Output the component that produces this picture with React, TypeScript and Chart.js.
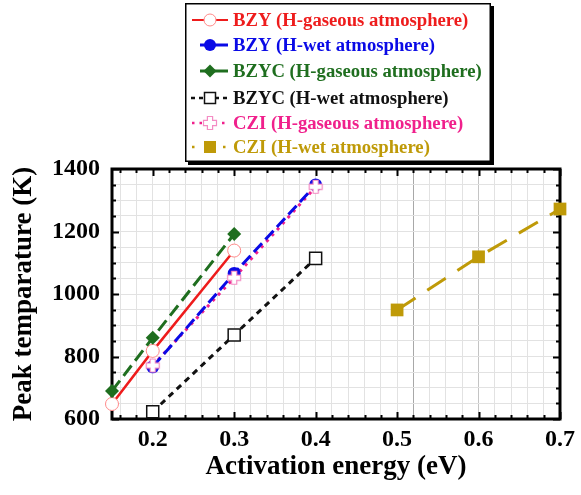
import React, { useEffect, useRef } from 'react';
import { Chart, registerables } from 'chart.js';

Chart.register(...registerables);

// Activation energy (eV) and peak temperature (K) for each sample / atmosphere
const E_BZY_GAS = [0.15, 0.2, 0.3];
const T_BZY_GAS = [648, 818, 1139];
const E_BZY_WET = [0.2, 0.3, 0.4];
const T_BZY_WET = [767, 1066, 1349];
const E_BZYC_GAS = [0.15, 0.2, 0.3];
const T_BZYC_GAS = [690, 860, 1192];
const E_BZYC_WET = [0.2, 0.3, 0.4];
const T_BZYC_WET = [623, 869, 1114];
const E_CZI_GAS = [0.2, 0.3, 0.4];
const T_CZI_GAS = [771, 1052, 1343];
const E_CZI_WET = [0.5, 0.6, 0.7];
const T_CZI_WET = [949, 1119, 1272];

// Axis labels
const X_LABELS = [0.2, 0.3, 0.4, 0.5, 0.6, 0.7];
const Y_LABELS = [600, 800, 1000, 1200, 1400];

const X_MIN = 0.15;
const X_MAX = 0.7;
const X_MINOR_STEP = 0.02;
const Y_MIN = 600;
const Y_MAX = 1400;
const Y_MINOR_STEP = 50;

const SERIF = "'Liberation Serif', 'Times New Roman', serif";

const RED = '#ee1c1c';
const BLUE = '#0a0ae6';
const GREEN = '#1f6e1f';
const BLACK = '#111111';
const PINK = '#f0208c';
const GOLD = '#bf9a08';

const zip = (xs: number[], ys: number[]) => xs.map((x, i) => ({ x, y: ys[i] }));

const xMinor: number[] = [];
for (let v = 0.16; v <= X_MAX + 1e-9; v += X_MINOR_STEP) xMinor.push(Math.round(v * 100) / 100);
const yMinor: number[] = [];
for (let v = Y_MIN; v <= Y_MAX; v += Y_MINOR_STEP) yMinor.push(v);

const isXMajor = (v: number) => X_LABELS.some((m) => Math.abs(m - v) < 1e-6);
const isYMajor = (v: number) => Y_LABELS.some((m) => Math.abs(m - v) < 1e-6);

function crossPath(ctx: CanvasRenderingContext2D, cx: number, cy: number, L: number, a: number) {
  ctx.beginPath();
  ctx.moveTo(cx - a, cy - L);
  ctx.lineTo(cx + a, cy - L);
  ctx.lineTo(cx + a, cy - a);
  ctx.lineTo(cx + L, cy - a);
  ctx.lineTo(cx + L, cy + a);
  ctx.lineTo(cx + a, cy + a);
  ctx.lineTo(cx + a, cy + L);
  ctx.lineTo(cx - a, cy + L);
  ctx.lineTo(cx - a, cy + a);
  ctx.lineTo(cx - L, cy + a);
  ctx.lineTo(cx - L, cy - a);
  ctx.lineTo(cx - a, cy - a);
  ctx.closePath();
}

function makeCross(): HTMLCanvasElement {
  const c = document.createElement('canvas');
  c.width = 16;
  c.height = 16;
  const g = c.getContext('2d')!;
  crossPath(g, 8, 8, 6.5, 2.6);
  g.fillStyle = '#ffffff';
  g.fill();
  g.lineWidth = 1.2;
  g.strokeStyle = '#f48cc4';
  g.stroke();
  return c;
}

type Marker = 'circleOpen' | 'circle' | 'diamond' | 'squareOpen' | 'cross' | 'square';

interface LegendRow {
  label: string;
  color: string;
  dash: number[];
  marker: Marker;
  lineFrom: number;
  width: number;
}

const LEGEND: LegendRow[] = [
  { label: 'BZY (H-gaseous atmosphere)', color: RED, dash: [], marker: 'circleOpen', lineFrom: 192, width: 2 },
  { label: 'BZY (H-wet atmosphere)', color: BLUE, dash: [], marker: 'circle', lineFrom: 200, width: 3 },
  { label: 'BZYC (H-gaseous atmosphere)', color: GREEN, dash: [], marker: 'diamond', lineFrom: 200, width: 3 },
  { label: 'BZYC (H-wet atmosphere)', color: BLACK, dash: [4, 4], marker: 'squareOpen', lineFrom: 191, width: 2.5 },
  { label: 'CZI (H-gaseous atmosphere)', color: PINK, dash: [2.5, 5], marker: 'cross', lineFrom: 192, width: 2.5 },
  { label: 'CZI (H-wet atmosphere)', color: GOLD, dash: [2.5, 13], marker: 'square', lineFrom: 192, width: 2.5 },
];

function drawMarker(ctx: CanvasRenderingContext2D, m: Marker, x: number, y: number) {
  ctx.save();
  ctx.setLineDash([]);
  switch (m) {
    case 'circleOpen':
      ctx.beginPath();
      ctx.arc(x, y, 6, 0, Math.PI * 2);
      ctx.fillStyle = '#fff';
      ctx.fill();
      ctx.lineWidth = 1;
      ctx.strokeStyle = '#ff8a8a';
      ctx.stroke();
      break;
    case 'circle':
      ctx.beginPath();
      ctx.arc(x, y, 6, 0, Math.PI * 2);
      ctx.fillStyle = BLUE;
      ctx.fill();
      break;
    case 'diamond':
      ctx.beginPath();
      ctx.moveTo(x - 6.5, y);
      ctx.lineTo(x, y - 6.5);
      ctx.lineTo(x + 6.5, y);
      ctx.lineTo(x, y + 6.5);
      ctx.closePath();
      ctx.fillStyle = GREEN;
      ctx.fill();
      break;
    case 'squareOpen':
      ctx.fillStyle = '#fff';
      ctx.fillRect(x - 5.5, y - 5.5, 11, 11);
      ctx.lineWidth = 1.5;
      ctx.strokeStyle = BLACK;
      ctx.strokeRect(x - 5.5, y - 5.5, 11, 11);
      break;
    case 'cross':
      crossPath(ctx, x, y, 6.5, 2.6);
      ctx.fillStyle = '#fff';
      ctx.fill();
      ctx.lineWidth = 1.2;
      ctx.strokeStyle = '#f48cc4';
      ctx.stroke();
      break;
    case 'square':
      ctx.fillStyle = GOLD;
      ctx.fillRect(x - 6, y - 6, 12, 12);
      break;
  }
  ctx.restore();
}

const LEGEND_ROWS_Y = [20, 45, 71, 98, 123, 147];

const framePlugin = {
  id: 'frameAndLegend',
  beforeDatasetsDraw(chart: any) {
    const { ctx, chartArea: a, scales } = chart;
    const xs = scales.x;
    const ys = scales.y;
    ctx.save();
    ctx.strokeStyle = '#000';
    ctx.lineWidth = 2;
    ctx.beginPath();
    xMinor.forEach((v) => {
      const px = Math.round(xs.getPixelForValue(v)) + 0.5;
      const len = isXMajor(v) ? 7 : 4;
      ctx.moveTo(px, a.bottom);
      ctx.lineTo(px, a.bottom - len);
      ctx.moveTo(px, a.top);
      ctx.lineTo(px, a.top + len);
    });
    yMinor.forEach((v) => {
      const py = Math.round(ys.getPixelForValue(v)) + 0.5;
      const len = isYMajor(v) ? 7 : 4;
      ctx.moveTo(a.left, py);
      ctx.lineTo(a.left + len, py);
      ctx.moveTo(a.right, py);
      ctx.lineTo(a.right - len, py);
    });
    ctx.stroke();
    ctx.lineWidth = 3;
    ctx.strokeRect(a.left, a.top, a.right - a.left, a.bottom - a.top);
    ctx.restore();
  },
  afterDraw(chart: any) {
    const { ctx } = chart;
    ctx.save();
    // legend box with drop shadow
    ctx.fillStyle = '#000';
    ctx.fillRect(188, 6, 306, 159);
    ctx.fillStyle = '#fff';
    ctx.fillRect(185, 3, 306, 159);
    ctx.lineWidth = 1.5;
    ctx.strokeStyle = '#000';
    ctx.strokeRect(185.75, 3.75, 304.5, 157.5);

    ctx.font = `bold 18.7px ${SERIF}`;
    ctx.textBaseline = 'middle';
    ctx.textAlign = 'left';
    LEGEND.forEach((row, i) => {
      const y = LEGEND_ROWS_Y[i];
      ctx.save();
      ctx.strokeStyle = row.color;
      ctx.lineWidth = row.width;
      ctx.setLineDash(row.dash);
      ctx.beginPath();
      ctx.moveTo(row.lineFrom, y);
      ctx.lineTo(228, y);
      ctx.stroke();
      ctx.restore();
      drawMarker(ctx, row.marker, 210, y);
      ctx.fillStyle = row.color;
      ctx.fillText(row.label, 233, y + 1);
    });
    ctx.restore();
  },
};

export default function App() {
  const canvasRef = useRef<HTMLCanvasElement | null>(null);

  useEffect(() => {
    document.body.style.margin = '0';
    const canvas = canvasRef.current;
    if (!canvas) return;
    const cross = makeCross();

    const tickFont = { family: SERIF, size: 24, weight: 'bold' as const };
    const titleFont = { family: SERIF, size: 27, weight: 'bold' as const };

    const chart = new Chart(canvas, {
      type: 'line',
      data: {
        datasets: [
          {
            label: 'CZI (H-gaseous atmosphere) line',
            data: zip(E_CZI_GAS, T_CZI_GAS),
            borderColor: PINK,
            borderWidth: 3,
            borderDash: [3, 5],
            pointRadius: 0,
            order: 7,
          },
          {
            label: 'BZY (H-wet atmosphere)',
            data: zip(E_BZY_WET, T_BZY_WET),
            borderColor: BLUE,
            borderWidth: 3,
            borderDash: [12, 5],
            pointStyle: 'circle',
            pointRadius: 6.5,
            pointBackgroundColor: BLUE,
            pointBorderColor: BLUE,
            pointBorderWidth: 0,
            order: 6,
          },
          {
            label: 'BZYC (H-wet atmosphere)',
            data: zip(E_BZYC_WET, T_BZYC_WET),
            borderColor: BLACK,
            borderWidth: 3,
            borderDash: [6, 5],
            pointStyle: 'rect',
            pointRadius: 8.5,
            pointBackgroundColor: '#fff',
            pointBorderColor: BLACK,
            pointBorderWidth: 1.5,
            order: 5,
          },
          {
            label: 'BZY (H-gaseous atmosphere)',
            data: zip(E_BZY_GAS, T_BZY_GAS),
            borderColor: RED,
            borderWidth: 2.5,
            pointStyle: 'circle',
            pointRadius: 6.5,
            pointBackgroundColor: '#fff',
            pointBorderColor: '#ff8a8a',
            pointBorderWidth: 1,
            order: 4,
          },
          {
            label: 'BZYC (H-gaseous atmosphere)',
            data: zip(E_BZYC_GAS, T_BZYC_GAS),
            borderColor: GREEN,
            borderWidth: 3,
            borderDash: [13, 6],
            pointStyle: 'rectRot',
            pointRadius: 7,
            pointBackgroundColor: GREEN,
            pointBorderColor: GREEN,
            pointBorderWidth: 0,
            order: 3,
          },
          {
            label: 'CZI (H-wet atmosphere)',
            data: zip(E_CZI_WET, T_CZI_WET),
            borderColor: GOLD,
            borderWidth: 3,
            borderDash: [22, 14],
            pointStyle: 'rect',
            pointRadius: 9,
            pointBackgroundColor: GOLD,
            pointBorderColor: GOLD,
            pointBorderWidth: 0,
            order: 2,
          },
          {
            label: 'CZI (H-gaseous atmosphere)',
            data: zip(E_CZI_GAS, T_CZI_GAS),
            showLine: false,
            pointStyle: cross,
            pointRadius: 8,
            order: 1,
          },
        ].map((d) => ({ ...d, clip: false as const, tension: 0, fill: false })),
      },
      options: {
        animation: false,
        responsive: true,
        maintainAspectRatio: false,
        layout: { padding: { top: 169, right: 15, left: 0, bottom: 0 } },
        plugins: { legend: { display: false }, tooltip: { enabled: false } },
        scales: {
          x: {
            type: 'linear',
            min: X_MIN,
            max: X_MAX,
            afterBuildTicks: (s: any) => {
              s.ticks = xMinor.map((v) => ({ value: v }));
            },
            afterFit: (s: any) => {
              s.height = 76;
            },
            ticks: {
              autoSkip: false,
              maxRotation: 0,
              padding: 6,
              color: '#000',
              font: tickFont,
              callback: (v: any) => (isXMajor(Number(v)) ? Number(v).toFixed(1) : ''),
            },
            grid: {
              drawTicks: false,
              lineWidth: 1,
              color: (c: any) => {
                const v = c.tick ? c.tick.value : 0;
                if (Math.abs(v - 0.52) < 1e-6) return '#a8a8a8';
                if (Math.abs(v - 0.6) < 1e-6) return '#c4c4c4';
                return '#e2e2e2';
              },
            },
            border: { display: false },
            title: {
              display: true,
              text: 'Activation energy (eV)',
              color: '#000',
              font: titleFont,
              padding: { top: 0, bottom: 12 },
            },
          },
          y: {
            type: 'linear',
            min: Y_MIN,
            max: Y_MAX,
            afterBuildTicks: (s: any) => {
              s.ticks = yMinor.map((v) => ({ value: v }));
            },
            afterFit: (s: any) => {
              s.width = 112;
            },
            ticks: {
              autoSkip: false,
              padding: 12,
              color: '#000',
              font: tickFont,
              callback: (v: any) => (isYMajor(Number(v)) ? String(v) : ''),
            },
            grid: { drawTicks: false, lineWidth: 1, color: '#e2e2e2' },
            border: { display: false },
            title: {
              display: true,
              text: 'Peak temparature (K)',
              color: '#000',
              font: titleFont,
              padding: { top: 8, bottom: 0 },
            },
          },
        },
      },
      plugins: [framePlugin],
    } as any);

    return () => chart.destroy();
  }, []);

  return (
    <div style={{ position: 'relative', width: 581, height: 495 }}>
      <canvas ref={canvasRef} />
    </div>
  );
}
